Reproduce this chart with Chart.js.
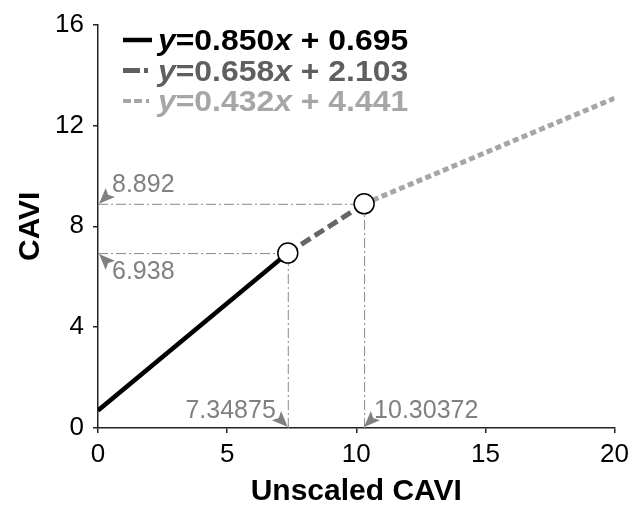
<!DOCTYPE html>
<html><head><meta charset="utf-8">
<style>html,body{margin:0;padding:0;background:#fff}#wrap{width:635px;height:514px}</style>
<script src="https://cdn.jsdelivr.net/npm/chart.js@4/dist/chart.umd.min.js"></script>
</head><body><div id="wrap"><canvas id="c" width="635" height="514"></canvas></div>
<script>
const xTicks = [0, 5, 10, 15, 20];
const yTicks = [0, 4, 8, 12, 16];
const seg1X = [0, 7.34875],        seg1Y = [0.695, 6.938];
const seg2X = [7.34875, 10.30372], seg2Y = [6.938, 8.892];
const seg3X = [10.30372, 20],      seg3Y = [8.892, 13.081];
const breakX = [7.34875, 10.30372];
const breakY = [6.938, 8.892];
const breakXLabels = ['7.34875', '10.30372'];
const breakYLabels = ['6.938', '8.892'];
const slopes = ['0.850', '0.658', '0.432'];
const intercepts = ['0.695', '2.103', '4.441'];

const FAM = '"Liberation Sans", Arial, Helvetica, sans-serif';
Chart.defaults.font.family = FAM;
const seriesColors = ['#000000', '#5f5f5f', '#a6a6a6'];
const pts = (xs, ys) => xs.map((x, i) => ({x: x, y: ys[i]}));

const refLines = {
  id: 'refLines',
  beforeDatasetsDraw(chart) {
    const {ctx, scales: {x, y}} = chart;
    ctx.save();
    ctx.strokeStyle = '#8a8a8a';
    ctx.lineWidth = 1;
    ctx.setLineDash([10, 3, 2, 3]);
    for (let i = 0; i < breakX.length; i++) {
      const px = x.getPixelForValue(breakX[i]);
      const py = y.getPixelForValue(breakY[i]);
      ctx.beginPath();
      ctx.moveTo(x.getPixelForValue(0), py + 0.5);
      ctx.lineTo(px, py + 0.5);
      ctx.stroke();
      ctx.beginPath();
      ctx.moveTo(px + 0.5, y.getPixelForValue(0));
      ctx.lineTo(px + 0.5, py);
      ctx.stroke();
    }
    ctx.restore();
  }
};

function arrow(ctx, tx, ty, dx, dy) {
  const L = 16, W = 6.5;
  const n = Math.hypot(dx, dy); dx /= n; dy /= n;
  const bx = tx - dx * L, by = ty - dy * L;
  ctx.beginPath();
  ctx.moveTo(tx, ty);
  ctx.lineTo(bx - dy * W, by + dx * W);
  ctx.lineTo(tx - dx * L * 0.8, ty - dy * L * 0.8);
  ctx.lineTo(bx + dy * W, by - dx * W);
  ctx.closePath();
  ctx.fill();
}

const annotations = {
  id: 'annotations',
  afterDraw(chart) {
    const {ctx, scales: {x, y}} = chart;
    const x0 = x.getPixelForValue(0), y0 = y.getPixelForValue(0);
    ctx.save();
    ctx.fillStyle = '#808080';
    ctx.font = '25px ' + FAM;
    const pyLow = y.getPixelForValue(breakY[0]);
    const pyHigh = y.getPixelForValue(breakY[1]);
    arrow(ctx, x0 + 1, pyHigh, -1, 1);
    arrow(ctx, x0 + 1, pyLow + 1, -1, -1);
    ctx.textAlign = 'left';
    ctx.textBaseline = 'alphabetic';
    ctx.fillText(breakYLabels[1], x0 + 14, pyHigh - 12);
    ctx.fillText(breakYLabels[0], x0 + 14, pyLow + 26);
    const pxLow = x.getPixelForValue(breakX[0]);
    const pxHigh = x.getPixelForValue(breakX[1]);
    arrow(ctx, pxLow, y0 - 1, 1, 1);
    arrow(ctx, pxHigh, y0 - 1, -1, 1);
    ctx.textAlign = 'right';
    ctx.fillText(breakXLabels[0], pxLow - 12, y0 - 10);
    ctx.textAlign = 'left';
    ctx.fillText(breakXLabels[1], pxHigh + 10, y0 - 10);
    ctx.restore();

    // legend
    ctx.save();
    const dashes = [[], [17, 4, 4, 8], [8, 3, 8, 4, 3, 10]];
    const widths = [4.5, 5, 4];
    for (let i = 0; i < slopes.length; i++) {
      const base = 50 + i * 30.5;
      ctx.strokeStyle = seriesColors[i];
      ctx.lineWidth = widths[i];
      ctx.setLineDash(dashes[i]);
      ctx.beginPath();
      ctx.moveTo(123, base - 10);
      ctx.lineTo(152, base - 10);
      ctx.stroke();
      ctx.setLineDash([]);
      const parts = [
        {t: 'y', it: true},
        {t: '=' + slopes[i], it: false},
        {t: 'x', it: true},
        {t: ' + ' + intercepts[i], it: false}
      ];
      ctx.save();
      ctx.translate(158, base);
      ctx.scale(1.1, 1);
      ctx.fillStyle = seriesColors[i];
      ctx.textAlign = 'left';
      ctx.textBaseline = 'alphabetic';
      let cx = 0;
      for (const p of parts) {
        ctx.font = (p.it ? 'italic ' : '') + 'bold 29px ' + FAM;
        ctx.fillText(p.t, cx, 0);
        cx += ctx.measureText(p.t).width;
      }
      ctx.restore();
    }
    ctx.restore();
  }
};

new Chart(document.getElementById('c'), {
  type: 'scatter',
  data: {
    datasets: [
      {data: pts(breakX, breakY), showLine: false, pointRadius: 10, pointHoverRadius: 10,
       pointBackgroundColor: '#ffffff', pointBorderColor: '#000000', pointBorderWidth: 1.5},
      {data: pts(seg1X, seg1Y), showLine: true, borderColor: seriesColors[0], borderWidth: 4.5, pointRadius: 0},
      {data: pts(seg2X, seg2Y), showLine: true, borderColor: '#666666', borderWidth: 5, borderDash: [11, 5], pointRadius: 0},
      {data: pts(seg3X, seg3Y), showLine: true, borderColor: seriesColors[2], borderWidth: 5, borderDash: [6, 3.5], pointRadius: 0}
    ]
  },
  options: {
    responsive: false,
    animation: false,
    devicePixelRatio: 1,
    layout: {padding: {top: 22, right: 18, bottom: 0, left: 0}},
    plugins: {legend: {display: false}, tooltip: {enabled: false}},
    scales: {
      x: {
        type: 'linear', min: 0, max: 20,
        afterBuildTicks: s => { s.ticks = xTicks.map(v => ({value: v})); },
        afterFit: s => { s.height = 86; },
        ticks: {color: '#000', font: {size: 26}, padding: 6, maxRotation: 0},
        grid: {drawOnChartArea: false, tickLength: 5, color: '#222', lineWidth: 1.5},
        border: {color: '#222', width: 1.5},
        title: {display: true, text: 'Unscaled CAVI', color: '#000',
                font: {size: 30, weight: 'bold'}, padding: {top: 0, bottom: 4}}
      },
      y: {
        type: 'linear', min: 0, max: 16,
        afterBuildTicks: s => { s.ticks = yTicks.map(v => ({value: v})); },
        afterFit: s => { s.width = 98; },
        ticks: {color: '#000', font: {size: 26}, padding: 9},
        grid: {drawOnChartArea: false, tickLength: 5, color: '#222', lineWidth: 1.5},
        border: {color: '#222', width: 1.5},
        title: {display: true, text: 'CAVI', color: '#000',
                font: {size: 30, weight: 'bold'}, padding: {top: 13, bottom: 0}}
      }
    }
  },
  plugins: [refLines, annotations]
});
</script>
</body></html>
